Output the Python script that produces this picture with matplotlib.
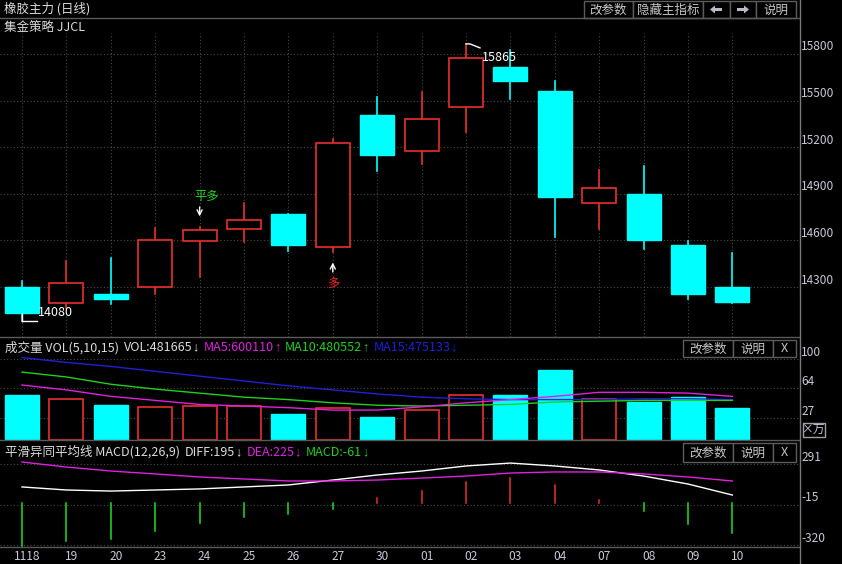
import matplotlib
matplotlib.use('Agg')
import matplotlib.pyplot as plt
from matplotlib.patches import Rectangle, Polygon

plt.rcParams['font.family'] = ['Noto Sans CJK SC', 'DejaVu Sans']

# ---------------- data ----------------
dates = ['1118', '19', '20', '23', '24', '25', '26', '27', '30', '01',
         '02', '03', '04', '07', '08', '09', '10']
opens = [14300, 14200, 14255, 14300, 14595, 14675, 14770, 14555, 15405,
         15175, 15460, 15716, 15560, 14840, 14900, 14570, 14300]
closes = [14130, 14325, 14225, 14600, 14670, 14730, 14572, 15225, 15150,
          15380, 15772, 15628, 14880, 14937, 14600, 14255, 14205]
highs = [14340, 14465, 14485, 14680, 14685, 14840, 14772, 15250, 15520,
         15555, 15865, 15825, 15625, 15053, 15080, 14595, 14520]
lows = [14080, 14165, 14190, 14255, 14365, 14590, 14533, 14527, 15045,
        15090, 15300, 15512, 14620, 14673, 14545, 14222, 14200]
price_ticks = [15800, 15500, 15200, 14900, 14600, 14300]

vol = [55.7, 50.7, 43.3, 40.8, 42.0, 42.0, 32.2, 39.6, 28.5, 37.1,
       55.7, 55.7, 86.6, 50.7, 47.0, 53.2, 39.6]
vol_ma5 = [68, 62, 54, 49, 44, 42, 40, 37, 37, 41, 46, 50, 54, 59, 59, 58, 54]
vol_ma10 = [84, 78, 69, 63, 58, 53, 50, 46, 43, 42, 43, 44, 47, 48, 49, 49, 49]
vol_ma15 = [102, 96, 91, 85, 79, 73, 67, 62, 57, 53, 51, 50, 50, 50, 51, 51, 50]
vol_ticks = [100, 64, 27]

diff = [121, 98, 90, 98, 106, 121, 136, 173, 211, 241, 279, 301, 279, 249, 203, 143, 60]
dea = [309, 271, 241, 219, 196, 181, 166, 166, 173, 188, 203, 226, 234, 234, 219, 196, 166]
macd = [-324, -286, -271, -211, -151, -105, -83, -45, 38, 90, 158, 188, 136, 23, -58, -156, -224]
macd_ticks = [291, -15, -320]

# ---------------- layout helpers ----------------
W, H = 842, 564
fig = plt.figure(figsize=(W / 100, H / 100), dpi=100, facecolor='black')


def rect(x0, y0, x1, y1):
    return [x0 / W, 1 - y1 / H, (x1 - x0) / W, (y1 - y0) / H]


X0, DX = 22.0, 44.4
AXR = 799
xlim = (-X0 / DX, (AXR - X0) / DX)
BW = 34 / DX
idx = list(range(len(dates)))

GRID = dict(color='#4a4a4a', lw=0.8, ls=(0, (1, 2)))
UP = '#e8302c'
DN = '#00ffff'
TXT = '#dcdcdc'
AXC = '#7a7a7a'
MAG = '#e020e0'
GRN = '#20d020'
BLU = '#2020d8'
FS = 8.6


def mk_axes(y0, y1, ylo, yhi):
    ax = fig.add_axes(rect(0, y0, AXR, y1))
    ax.set_facecolor('black')
    ax.set_xlim(*xlim)
    ax.set_ylim(ylo, yhi)
    for s in ax.spines.values():
        s.set_visible(False)
    ax.set_xticks([])
    ax.set_yticks([])
    return ax


def label_right(ax, vals, upp, px_up=7):
    for v in vals:
        ax.axhline(v, **GRID, zorder=0)
        ax.text(1.003, v + px_up * upp, str(v), transform=ax.get_yaxis_transform(),
                color='#c8c8d8', fontsize=FS, va='center', ha='left', clip_on=False)


# ---------------- main panel ----------------
M_TOP, M_BOT = 18, 337
upp_m = 300 / 46.6
m_hi = 15800 + (54 - M_TOP) * upp_m
m_lo = 15800 - (M_BOT - 54) * upp_m
axm = mk_axes(M_TOP, M_BOT, m_lo, m_hi)
label_right(axm, price_ticks, upp_m)
for i in idx:
    axm.plot([i, i], [m_lo, m_hi - 15 * upp_m], **GRID, zorder=0)

for i, o, c, h, l in zip(idx, opens, closes, highs, lows):
    if c >= o:
        axm.plot([i, i], [max(o, c), h], color=UP, lw=1.2, zorder=2)
        axm.plot([i, i], [l, min(o, c)], color=UP, lw=1.2, zorder=2)
        axm.add_patch(Rectangle((i - BW / 2, o), BW, c - o, facecolor='black',
                                edgecolor=UP, lw=1.2, zorder=3))
    else:
        axm.plot([i, i], [l, h], color=DN, lw=1.2, zorder=2)
        axm.add_patch(Rectangle((i - BW / 2, c), BW, o - c, facecolor=DN,
                                edgecolor=DN, lw=1.0, zorder=3))

# high / low markers
ih = highs.index(max(highs))
il = lows.index(min(lows))
axm.plot([ih, ih + 4 / DX, ih + 14 / DX], [highs[ih], highs[ih], highs[ih] - 4 * upp_m],
         color='white', lw=1.0, zorder=4)
axm.text(ih + 15.5 / DX, highs[ih] - 13.5 * upp_m, str(max(highs)), color='white',
         fontsize=FS + 0.4, va='center', ha='left', zorder=5)
axm.plot([il, il], [lows[il], min(opens[il], closes[il])], color='white', lw=1.0, zorder=4)
axm.plot([il, il + 15 / DX], [lows[il], lows[il]], color='white', lw=1.0, zorder=4)
axm.text(il + 15.5 / DX, lows[il] + 9 * upp_m, str(min(lows)), color='white',
         fontsize=FS + 0.4, va='center', ha='left', zorder=5)

# signals
axm.annotate('', xy=(4, highs[4] + 8 * upp_m), xytext=(4, highs[4] + 23 * upp_m),
             arrowprops=dict(arrowstyle='->', color='white', lw=1.0,
                             mutation_scale=9), zorder=5)
axm.text(4 + 7 / DX, highs[4] + 31 * upp_m, '平多', color='#20d820', fontsize=8.8,
         ha='center', va='center', zorder=5)
axm.annotate('', xy=(7, lows[7] - 8 * upp_m), xytext=(7, lows[7] - 23 * upp_m),
             arrowprops=dict(arrowstyle='->', color='white', lw=1.0,
                             mutation_scale=9), zorder=5)
axm.text(7, lows[7] - 32 * upp_m, '多', color='#ff2020', fontsize=8.8,
         ha='center', va='center', zorder=5)

# ---------------- volume panel ----------------
V_TOP, V_BOT = 337, 440
upp_v = 73 / 59.0
axv = mk_axes(V_TOP, V_BOT, 0, (V_BOT - V_TOP) * upp_v)
label_right(axv, vol_ticks, upp_v)
for i, o, c, v in zip(idx, opens, closes, vol):
    if c >= o:
        axv.add_patch(Rectangle((i - BW / 2, 0), BW, v, facecolor='black',
                                edgecolor=UP, lw=1.2, zorder=3))
    else:
        axv.add_patch(Rectangle((i - BW / 2, 0), BW, v, facecolor=DN,
                                edgecolor=DN, lw=1.0, zorder=3))
axv.plot(idx, vol_ma15, color=BLU, lw=1.0, zorder=4)
axv.plot(idx, vol_ma10, color=GRN, lw=1.0, zorder=4)
axv.plot(idx, vol_ma5, color=MAG, lw=1.0, zorder=4)

# ---------------- MACD panel ----------------
D_TOP, D_BOT = 440, 547
upp_d = 7.536
zero_px = 503
axd = mk_axes(D_TOP, D_BOT, -(D_BOT - zero_px) * upp_d, (zero_px - D_TOP) * upp_d)
label_right(axd, macd_ticks, upp_d)
for i, m in zip(idx, macd):
    axd.plot([i, i], [0, m], color=(UP if m > 0 else '#20e020'), lw=1.1, zorder=3)
axd.plot(idx, diff, color='white', lw=1.0, zorder=4)
axd.plot(idx, dea, color=MAG, lw=1.0, zorder=4)

# ---------------- overlay (window chrome) ----------------
ov = fig.add_axes([0, 0, 1, 1], facecolor='none')
ov.set_xlim(0, W)
ov.set_ylim(H, 0)
ov.axis('off')

for y in (18, 337, 440, 547):
    ov.plot([0, AXR], [y, y], color='#5a5a5a', lw=1.0)
ov.plot([AXR + 0.5, AXR + 0.5], [0, H], color=AXC, lw=1.0)


def buttons(x_edges, y0, y1, labels):
    for a, b, t in zip(x_edges[:-1], x_edges[1:], labels):
        ov.add_patch(Rectangle((a, y0), b - a, y1 - y0, facecolor='black',
                               edgecolor='#5c5c5c', lw=1.0))
        if t:
            ov.text((a + b) / 2, (y0 + y1) / 2 + 0.5, t, color='#c8c8c8', fontsize=9,
                    ha='center', va='center')


def arrow_icon(cx, cy, direction):
    d = direction
    pts = [(cx - 6 * d, cy), (cx - 1 * d, cy - 4), (cx - 1 * d, cy - 1.5),
           (cx + 6 * d, cy - 1.5), (cx + 6 * d, cy + 1.5), (cx - 1 * d, cy + 1.5),
           (cx - 1 * d, cy + 4)]
    ov.add_patch(Polygon(pts, closed=True, facecolor='#b8bcc8', edgecolor='none'))


buttons([584, 633, 703, 730, 756, 796], 1, 18, ['改参数', '隐藏主指标', '', '', '说明'])
arrow_icon(716, 9.5, 1)
arrow_icon(743, 9.5, -1)
buttons([683, 733, 773, 796], 340, 357, ['改参数', '说明', 'X'])
buttons([683, 733, 773, 796], 443, 462, ['改参数', '说明', 'X'])

ov.text(4, 9, '橡胶主力 (日线)', color=TXT, fontsize=9, va='center', ha='left')
ov.text(4, 27, '集金策略 JJCL', color=TXT, fontsize=9, va='center', ha='left')


def header(y, parts, x=5):
    t = None
    for s, arr, col in parts:
        if t is None:
            t = ov.annotate(s, xy=(x, y), xycoords='data', color=col, fontsize=9,
                            va='center', ha='left')
        else:
            t = ov.annotate(s, xy=(1, 0.5), xycoords=t, xytext=(3.6, 0),
                            textcoords='offset points', color=col, fontsize=9,
                            va='center', ha='left')
        if arr:
            t = ov.annotate(arr, xy=(1, 0.5), xycoords=t, xytext=(0, 0),
                            textcoords='offset points', color=col, fontsize=9,
                            va='center', ha='left', family=['Liberation Sans', 'DejaVu Sans'])


header(347.5, [('成交量 VOL(5,10,15)', '', TXT), ('VOL:481665', '↓', TXT),
               ('MA5:600110', '↑', MAG), ('MA10:480552', '↑', GRN),
               ('MA15:475133', '↓', BLU)])
header(452, [('平滑异同平均线 MACD(12,26,9)', '', TXT), ('DIFF:195', '↓', TXT),
             ('DEA:225', '↓', MAG), ('MACD:-61', '↓', GRN)])

# unit box
ov.add_patch(Rectangle((803, 422.5), 22, 14, facecolor='black', edgecolor='#a0a0a0', lw=1.0))
ov.text(814, 429.5, '×万', color='#c8c8d8', fontsize=8.5, ha='center', va='center')

# date labels
for i, d in zip(idx, dates):
    ov.text(X0 + DX * i + 5, 556, d, color='#c8c8d8', fontsize=FS, ha='center', va='center')

fig.savefig('out.png', dpi=100, facecolor='black')
